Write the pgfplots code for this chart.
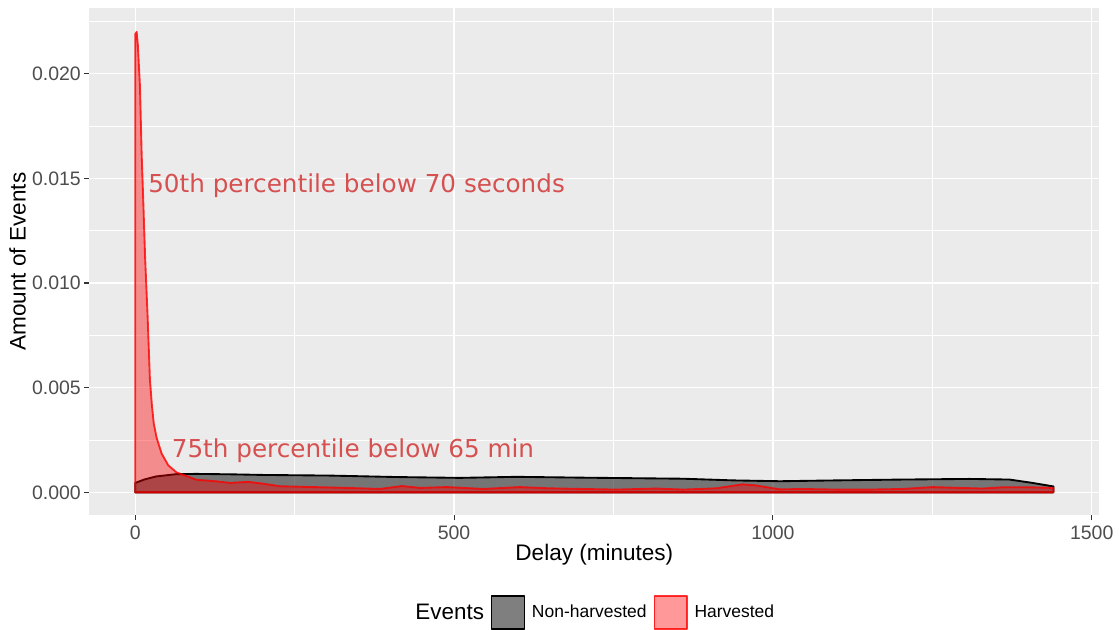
\documentclass[border=0pt]{standalone}
\usepackage{fontspec}
\setmainfont{Liberation Sans}
\newfontfamily\annfont{DejaVu Sans}
\usepackage{pgfplots}
\pgfplotsset{compat=1.18}
\definecolor{panel}{HTML}{EBEBEB}
\definecolor{ticklab}{HTML}{4D4D4D}
\definecolor{tickcol}{HTML}{333333}
\definecolor{anncol}{HTML}{D65050}
\pgfplotsset{box legend/.style={legend image code/.code={%
  \draw[##1, line width=1.1pt] (0pt,-12.4pt) rectangle (24.4pt,12.4pt);}}}

\begin{document}
\begin{tikzpicture}
\begin{axis}[
  name=ax,
  scale only axis, width=757.5pt, height=380.25pt,
  xmin=-72, xmax=1512, ymin=-0.001085, ymax=0.02314,
  axis background/.style={fill=panel},
  axis line style={draw=none},
  xtick={0,500,1000,1500}, xticklabels={0,500,1000,1500},
  ytick={0,0.005,0.01,0.015,0.02},
  yticklabels={0.000,0.005,0.010,0.015,0.020},
  minor xtick={250,750,1250},
  minor ytick={0.0025,0.0075,0.0125,0.0175,0.0225},
  scaled ticks=false,
  grid=both,
  major grid style={white, line width=1.1pt},
  minor grid style={white, line width=0.55pt},
  xtick pos=bottom, ytick pos=left,
  tick align=outside,
  major tick length=3.75pt, minor tick length=0pt,
  major tick style={tickcol, line width=0.8pt},
  tick label style={font=\fontsize{14.6}{16}\selectfont, text=ticklab},
  yticklabel style={inner sep=0pt},
  xticklabel style={inner sep=0pt},
  yticklabel shift=2.5pt, xticklabel shift=4.2pt,
  xlabel={Delay (minutes)}, ylabel={Amount of Events},
  label style={font=\fontsize{16.9}{18}\selectfont},
  xlabel style={at={(axis description cs:0.5,-0.0789)}, anchor=center},
  ylabel style={at={(axis description cs:-0.071,0.5)}, anchor=center},
  legend style={at={(axis description cs:0.497,-0.1923)}, anchor=center,
    draw=none, fill=none, legend columns=-1, inner sep=0pt,
    nodes={inner sep=0pt, font=\fontsize{13.1}{15}\selectfont},
    /tikz/column sep=5.25pt},
]
\addlegendimage{empty legend}
\addlegendentry{\fontsize{16.8}{18}\selectfont Events\hspace{8pt}}

% non-harvested
\addplot[draw=black, line width=1.4pt, line join=round, fill=black, fill opacity=0.5, box legend]
coordinates {
(0,0.00045) (15,0.00062) (33,0.00076) (65,0.00087) (96,0.00088) (150,0.00086)
(201,0.00083) (305,0.00080) (410,0.00073) (509,0.00069) (598,0.00074) (702,0.00070)
(859,0.00065) (938,0.00057) (1011,0.00053) (1099,0.00057) (1203,0.00061)
(1308,0.00064) (1371,0.00061) (1407,0.00045) (1440,0.00028)
} \closedcycle;
\addlegendentry{Non-harvested}

% harvested
\addplot[draw=red, draw opacity=0.8, line width=1.4pt, line join=round, fill=red, fill opacity=0.4, box legend]
coordinates {
(0,0.0219) (2.2,0.0220) (4,0.0214) (7.4,0.0194) (10,0.0162) (12.7,0.0138)
(15.5,0.0112) (19.4,0.0084) (23,0.0054) (26,0.0042) (29,0.0033) (33.6,0.0026)
(41.4,0.00185) (51.8,0.00129) (64.8,0.00095) (80,0.00078) (96,0.00060)
(122,0.00054) (149,0.00045) (177,0.00050) (201,0.00041) (227,0.00029)
(279,0.00025) (332,0.00021) (384,0.00016) (418,0.00030) (447,0.00021)
(488,0.00025) (509,0.00022) (546,0.00016) (603,0.00025) (650,0.00019)
(702,0.00016) (754,0.00013) (817,0.00018) (859,0.00013) (911,0.00019)
(952,0.00038) (973,0.00033) (1011,0.00014) (1047,0.00016) (1099,0.00013)
(1151,0.00013) (1203,0.00016) (1250,0.00025) (1282,0.00022) (1329,0.00018)
(1360,0.00024) (1402,0.00024) (1440,0.00021)
} \closedcycle;
\addlegendentry{Harvested}

\node[anchor=base west, inner sep=0pt, text=anncol, font=\annfont\fontsize{18.5}{20}\selectfont]
  at (axis cs:20,0.01434) {50th percentile below 70 seconds};
\node[anchor=base west, inner sep=0pt, text=anncol, font=\annfont\fontsize{18.5}{20}\selectfont]
  at (axis cs:57,0.00167) {75th percentile below 65 min};
\end{axis}
\path[use as bounding box] ([xshift=-67pt,yshift=-85.5pt]ax.south west)
  rectangle ([xshift=14.7pt,yshift=6pt]ax.north east);
\end{tikzpicture}
\end{document}
